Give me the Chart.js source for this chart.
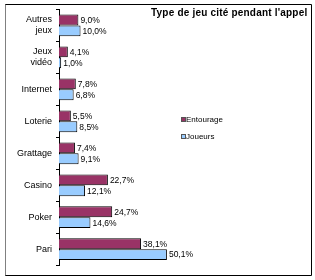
<!DOCTYPE html>
<html>
<head>
<meta charset="utf-8">
<script src="https://cdn.jsdelivr.net/npm/chart.js@4.4.0/dist/chart.umd.min.js"></script>
<style>
html,body{margin:0;padding:0;background:#fff;}
#wrap{width:315px;height:280px;position:relative;}
</style>
</head>
<body>
<div id="wrap"><canvas id="c" width="315" height="280"></canvas></div>
<script>
const categories = [["Autres","jeux"],["Jeux","vidéo"],"Internet","Loterie","Grattage","Casino","Poker","Pari"];
const entourage = [9.0, 4.1, 7.8, 5.5, 7.4, 22.7, 24.7, 38.1];
const joueurs = [10.0, 1.0, 6.8, 8.5, 9.1, 12.1, 14.6, 50.1];
const seriesNames = ["Entourage", "Joueurs"];
const seriesColors = ["#993366", "#99CCFF"];
const titleText = "Type de jeu cité pendant l'appel";

const fmt = v => v.toFixed(1).replace('.', ',') + '%';

const decor = {
  id: 'decor',
  afterDatasetsDraw(chart) {
    const ctx = chart.ctx;
    ctx.save();
    // value labels
    ctx.font = '8.5px "Liberation Sans", Arial, sans-serif';
    ctx.fillStyle = '#000';
    ctx.textBaseline = 'middle';
    ctx.textAlign = 'left';
    chart.data.datasets.forEach((ds, i) => {
      const meta = chart.getDatasetMeta(i);
      meta.data.forEach((bar, j) => {
        ctx.fillText(fmt(ds.data[j]), bar.x + 2, bar.y + 0.5);
      });
    });
    // title
    ctx.font = 'bold 10px "Liberation Sans", Arial, sans-serif';
    ctx.letterSpacing = '0.2px';
    ctx.fillText(titleText, 151, 13.5);
    ctx.letterSpacing = '0px';
    // legend
    ctx.font = '8px "Liberation Sans", Arial, sans-serif';
    const ly = [119.5, 136.5];
    seriesNames.forEach((n, i) => {
      ctx.fillStyle = seriesColors[i];
      ctx.fillRect(181, ly[i] - 2.5, 5, 5);
      ctx.strokeStyle = '#555';
      ctx.lineWidth = 1;
      ctx.strokeRect(181.5, ly[i] - 2, 4, 4);
      ctx.fillStyle = '#000';
      ctx.fillText(n, 186, ly[i]);
    });
    // outer frame
    ctx.strokeStyle = '#000';
    ctx.lineWidth = 1;
    ctx.beginPath();
    ctx.moveTo(5, 4.5); ctx.lineTo(311.5, 4.5); ctx.lineTo(311.5, 275.5); ctx.lineTo(5, 275.5);
    ctx.stroke();
    ctx.strokeStyle = '#808080';
    ctx.beginPath();
    ctx.moveTo(5.5, 4.5); ctx.lineTo(5.5, 275.5);
    ctx.stroke();
    ctx.restore();
  }
};

new Chart(document.getElementById('c'), {
  type: 'bar',
  data: {
    labels: categories,
    datasets: [
      { label: seriesNames[0], data: entourage, backgroundColor: seriesColors[0], borderColor: '#000', borderWidth: 1 },
      { label: seriesNames[1], data: joueurs, backgroundColor: seriesColors[1], borderColor: '#000', borderWidth: 1 }
    ]
  },
  options: {
    indexAxis: 'y',
    responsive: false,
    animation: false,
    devicePixelRatio: 1,
    layout: { padding: { left: 0, top: 4, right: 116, bottom: 4 } },
    datasets: { bar: { categoryPercentage: 0.68, barPercentage: 1 } },
    plugins: { legend: { display: false }, title: { display: false }, tooltip: { enabled: false } },
    scales: {
      x: { display: false, min: 0, max: 65 },
      y: {
        afterFit(scale) { scale.width = 59; },
        grid: { drawOnChartArea: false, offset: true, tickLength: 3, color: '#000', lineWidth: 1 },
        border: { display: true, color: '#000', width: 1 },
        ticks: { color: '#000', padding: 4, font: { family: '"Liberation Sans", Arial, sans-serif', size: 9 } }
      }
    }
  },
  plugins: [decor]
});
</script>
</body>
</html>
